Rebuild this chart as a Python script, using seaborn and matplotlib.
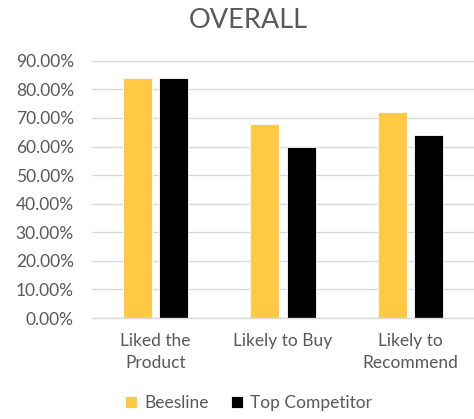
import matplotlib
matplotlib.use("Agg")
import matplotlib.pyplot as plt
import matplotlib.ticker as mticker
import pandas as pd
import seaborn as sns

categories = ["Liked the\nProduct", "Likely to Buy", "Likely to\nRecommend"]
beesline = [0.84, 0.68, 0.72]
top_competitor = [0.84, 0.60, 0.64]
series_names = ["Beesline", "Top Competitor"]
colors = ["#FFC944", "#000000"]

df = pd.DataFrame({
    "category": categories * 2,
    "series": [series_names[0]] * 3 + [series_names[1]] * 3,
    "value": beesline + top_competitor,
})

sns.set_theme(style="white")
plt.rcParams["font.family"] = ["Lato", "DejaVu Sans"]
text_color = "#595959"
grid_color = "#D9D9D9"

fig = plt.figure(figsize=(4.74, 4.19), dpi=100)
ax = fig.add_axes([0.194, 0.241, 0.806, 0.614])

sns.barplot(data=df, x="category", y="value", hue="series",
            palette=colors, saturation=1, width=0.57, gap=0.2, ax=ax,
            edgecolor="white", linewidth=0.6, errorbar=None)

ax.set_ylim(0, 0.9)
ax.yaxis.set_major_locator(mticker.MultipleLocator(0.1))
ax.yaxis.set_major_formatter(mticker.FuncFormatter(lambda v, _: f"{v * 100:.2f}%"))
ax.set_xlim(-0.5, 2.5)
ax.grid(axis="y", color=grid_color, linewidth=1.0)
ax.set_axisbelow(True)
for side in ["left", "right", "top"]:
    ax.spines[side].set_visible(False)
ax.spines["bottom"].set_color(grid_color)
ax.spines["bottom"].set_linewidth(1.0)
ax.tick_params(axis="both", length=0, labelsize=12.5, labelcolor=text_color)
ax.tick_params(axis="y", pad=13)
ax.tick_params(axis="x", pad=11)
for lbl in ax.get_xticklabels():
    lbl.set_linespacing(1.45)
ax.set_xlabel("")
ax.set_ylabel("")

fig.text(0.523, 0.952, "OVERALL", fontsize=19.5, color=text_color,
         ha="center", va="center")

ax.legend(loc="upper center", bbox_to_anchor=(0.41, -0.24), ncol=2, frameon=False,
          fontsize=12.5, labelcolor=text_color, handlelength=0.7, handleheight=0.7,
          handletextpad=0.4, columnspacing=1.3)

fig.savefig("out.png", dpi=100)
